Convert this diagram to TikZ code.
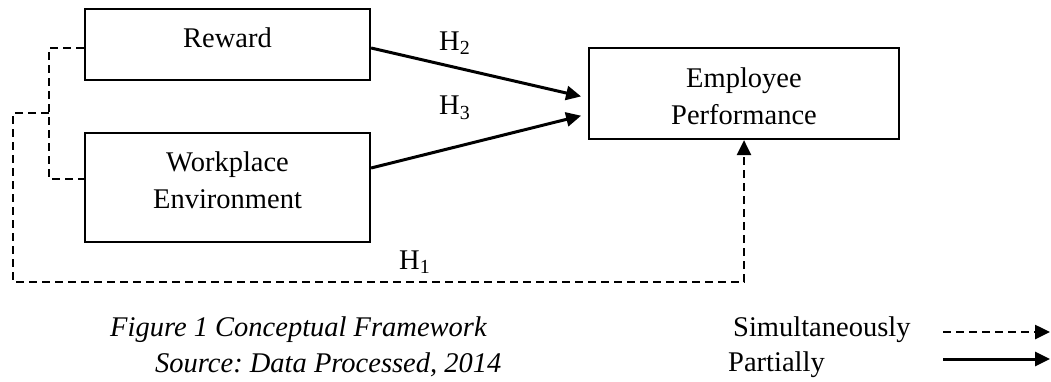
\documentclass[tikz,border=0pt]{standalone}
\usepackage{fontspec}
\setmainfont{Liberation Serif}
\usetikzlibrary{arrows.meta}
\frenchspacing
\begin{document}
\begin{tikzpicture}[x=1pt,y=-1pt,
  every node/.style={font=\fontsize{28.5}{37}\selectfont},
  box/.style={draw,line width=2.2pt,inner sep=0pt},
  txt/.style={align=center,inner sep=0pt},
  solidarrow/.style={line width=3pt,-{Triangle[length=15pt,width=14pt]}},
  dashedline/.style={line width=2.5pt,dash pattern=on 8pt off 5pt},
  dashedarrow/.style={dashedline,-{Triangle[length=15pt,width=14pt]}}]
\useasboundingbox (0,0) rectangle (1051,381);
% boxes
\node[box,minimum width=285pt,minimum height=71pt] (reward) at (227.5,44.5) {};
\node[txt] (rewardtxt) at (227.5,38) {Reward};
\node[box,minimum width=285pt,minimum height=109pt] (work) at (227.5,187.5) {};
\node[txt] (worktxt) at (227.5,180.5) {Workplace\\Environment};
\node[box,minimum width=310pt,minimum height=91pt] (emp) at (744,93.5) {};
\node[txt] (emptxt) at (744,96.5) {Employee\\Performance};
% labels
\node[txt,anchor=west] (h2) at (439,43) {H\textsubscript{2}};
\node[txt,anchor=west] (h3) at (439,108) {H\textsubscript{3}};
\node[txt,anchor=west] (h1) at (399,262) {H\textsubscript{1}};
% solid arrows
\draw[solidarrow,shorten >=7pt] ([yshift=-3.5pt]reward.east) -- ([yshift=-4.5pt]emp.west);
\draw[solidarrow,shorten >=7pt] ([yshift=19.5pt]work.east) -- ([yshift=-20.5pt]emp.west);
% dashed connectors
\coordinate (j1) at (49,113);
\coordinate (c1) at (13,282);
\draw[dashedline] ([yshift=-3.5pt]reward.west) -| (j1) |- ([yshift=8.5pt]work.west);
\draw[dashedarrow] (j1) -| (c1) -| (emp.south);
% caption
\node[txt,anchor=west,font=\fontsize{28.5}{37}\selectfont\itshape] (cap1) at (110,330) {Figure 1 Conceptual Framework};
\node[txt,anchor=west,font=\fontsize{28.5}{37}\selectfont\itshape] (cap2) at (155,365) {Source: Data Processed, 2014};
% legend
\node[txt,anchor=west] (simtxt) at (733,330) {Simultaneously};
\node[txt,anchor=west] (partxt) at (728,365) {Partially};
\coordinate (l1s) at (943,332);
\coordinate (l1e) at (1050,332);
\coordinate (l2s) at (943,359);
\coordinate (l2e) at (1050,359);
\draw[dashedarrow] (l1s) -- (l1e);
\draw[solidarrow] (l2s) -- (l2e);
\end{tikzpicture}
\end{document}
